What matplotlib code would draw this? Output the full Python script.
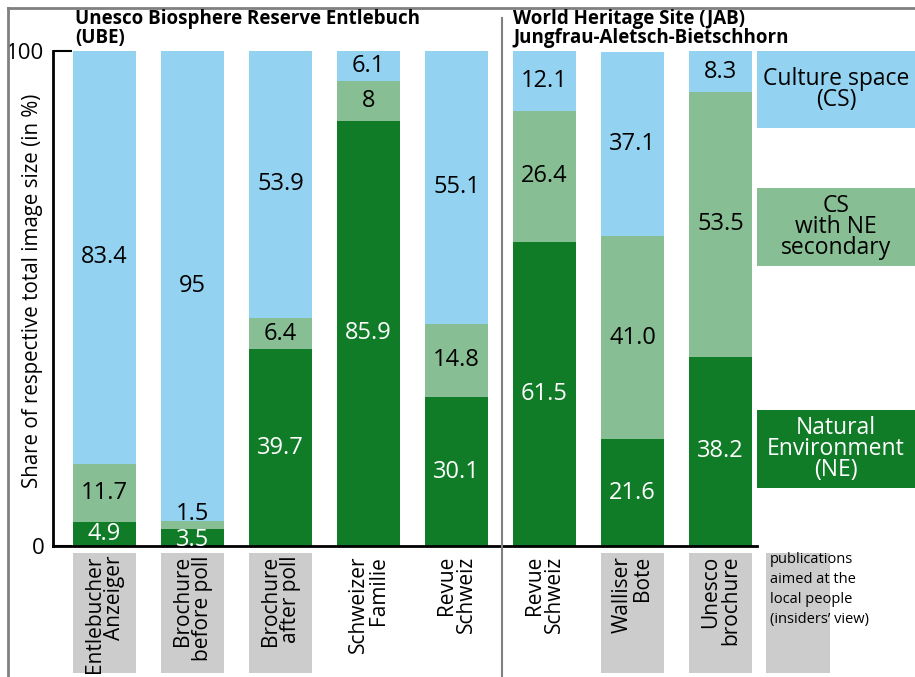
import matplotlib
matplotlib.use("Agg")
import matplotlib.pyplot as plt
from matplotlib.patches import Rectangle
from matplotlib.lines import Line2D

plt.rcParams['font.family'] = ['Open Sans', 'DejaVu Sans']

# ---- data ----
categories = ["Entlebucher\nAnzeiger", "Brochure\nbefore poll", "Brochure\nafter poll",
              "Schweizer\nFamilie", "Revue\nSchweiz", "Revue\nSchweiz",
              "Walliser\nBote", "Unesco\nbrochure"]
local_pub = [True, True, True, False, False, False, True, True]
ne_labels = ["4.9", "3.5", "39.7", "85.9", "30.1", "61.5", "21.6", "38.2"]
csne_labels = ["11.7", "1.5", "6.4", "8", "14.8", "26.4", "41.0", "53.5"]
cs_labels = ["83.4", "95", "53.9", "6.1", "55.1", "12.1", "37.1", "8.3"]
ne = [float(v) for v in ne_labels]
csne = [float(v) for v in csne_labels]
cs = [float(v) for v in cs_labels]
yticks = [0, 100]

C_CS = "#93D3F1"
C_CSNE = "#87BE93"
C_NE = "#117C28"
C_GRAY = "#CCCCCC"

W, H = 915, 677
fig = plt.figure(figsize=(W / 100, H / 100), dpi=100)

def fx(px):
    return px / W

def fy(py):
    return 1 - py / H

ax = fig.add_axes([fx(53), fy(546), fx(757) - fx(53), fy(51) - fy(546)])
x = list(range(len(categories)))
bw = 63 / 88
ax.bar(x, ne, bw, color=C_NE, linewidth=0)
ax.bar(x, csne, bw, bottom=ne, color=C_CSNE, linewidth=0)
bot2 = [a + b for a, b in zip(ne, csne)]
ax.bar(x, cs, bw, bottom=bot2, color=C_CS, linewidth=0)
ax.set_xlim(-0.585, 7.414)
ax.set_ylim(0, 100)

fs_num = 17
for i in x:
    small = csne[i] < 3
    # NE
    y_ne = ne[i] / 2 - (0.6 if small else 0)
    ax.text(i, y_ne, ne_labels[i], ha='center', va='center', color='white', fontsize=fs_num)
    # CS with NE
    if small:
        ax.text(i, bot2[i] + 1.5, csne_labels[i], ha='center', va='center', color='black', fontsize=fs_num)
    else:
        ax.text(i, ne[i] + csne[i] / 2, csne_labels[i], ha='center', va='center', color='black', fontsize=fs_num)
    # CS
    ax.text(i, bot2[i] + cs[i] / 2, cs_labels[i], ha='center', va='center', color='black', fontsize=fs_num)

for s in ['top', 'right']:
    ax.spines[s].set_visible(False)
for s in ['left', 'bottom']:
    ax.spines[s].set_linewidth(2)
ax.set_xticks([])
ax.set_yticks(yticks)
ax.set_yticklabels([str(t) for t in yticks], fontsize=16)
ax.tick_params(axis='y', direction='in', length=14, width=1.5, pad=6)
ax.set_ylabel("Share of respective total image size (in %)", fontsize=14.8)
ax.yaxis.set_label_coords(-0.014, 0.515)

# category label boxes
tr = ax.get_xaxis_transform()
y_top = -(553 - 546) / 495
y_bot = -(673 - 546) / 495
for i in x:
    if local_pub[i]:
        ax.add_patch(Rectangle((i - bw / 2, y_bot), bw, y_top - y_bot, transform=tr,
                               color=C_GRAY, clip_on=False, linewidth=0))
    ax.text(i, y_top - 0.006, categories[i], transform=tr, rotation=90, ha='center', va='top',
            multialignment='right', fontsize=15, linespacing=0.95, clip_on=False)

# legend-like boxes on the right
legend_items = [("Culture space\n(CS)", C_CS, 51, 128, 'black'),
                ("CS\nwith NE\nsecondary", C_CSNE, 188, 266, 'black'),
                ("Natural\nEnvironment\n(NE)", C_NE, 410, 488, 'white')]
for txt, col, t, b, tc in legend_items:
    fig.patches.append(Rectangle((fx(757), fy(b)), fx(915) - fx(757), fy(t) - fy(b),
                                 transform=fig.transFigure, color=col, linewidth=0))
    fig.text(fx(836), fy((t + b) / 2), txt, ha='center', va='center', color=tc,
             fontsize=16.5, linespacing=0.85)

# local publications note
fig.patches.append(Rectangle((fx(766), fy(673)), fx(830) - fx(766), fy(553) - fy(673),
                             transform=fig.transFigure, color=C_GRAY, linewidth=0))
fig.text(fx(770), fy(552), "publications\naimed at the\nlocal people\n(insiders\u2019 view)",
         ha='left', va='top', fontsize=10.5, linespacing=1.45)

# titles
fig.text(fx(75), fy(9), "Unesco Biosphere Reserve Entlebuch\n(UBE)", ha='left', va='top',
         fontsize=13.5, fontweight='bold', linespacing=0.9)
fig.text(fx(513), fy(9), "World Heritage Site (JAB)\nJungfrau-Aletsch-Bietschhorn", ha='left', va='top',
         fontsize=13.5, fontweight='bold', linespacing=0.9)

# frame lines
gray = "#808080"
fig.lines.append(Line2D([fx(8), 1], [fy(8), fy(8)], transform=fig.transFigure, color=gray, linewidth=2))
fig.lines.append(Line2D([fx(8), fx(8)], [0, fy(8)], transform=fig.transFigure, color=gray, linewidth=2))
fig.lines.append(Line2D([fx(502), fx(502)], [0, fy(18)], transform=fig.transFigure, color=gray, linewidth=1.5))

fig.savefig("out.png", dpi=100)
